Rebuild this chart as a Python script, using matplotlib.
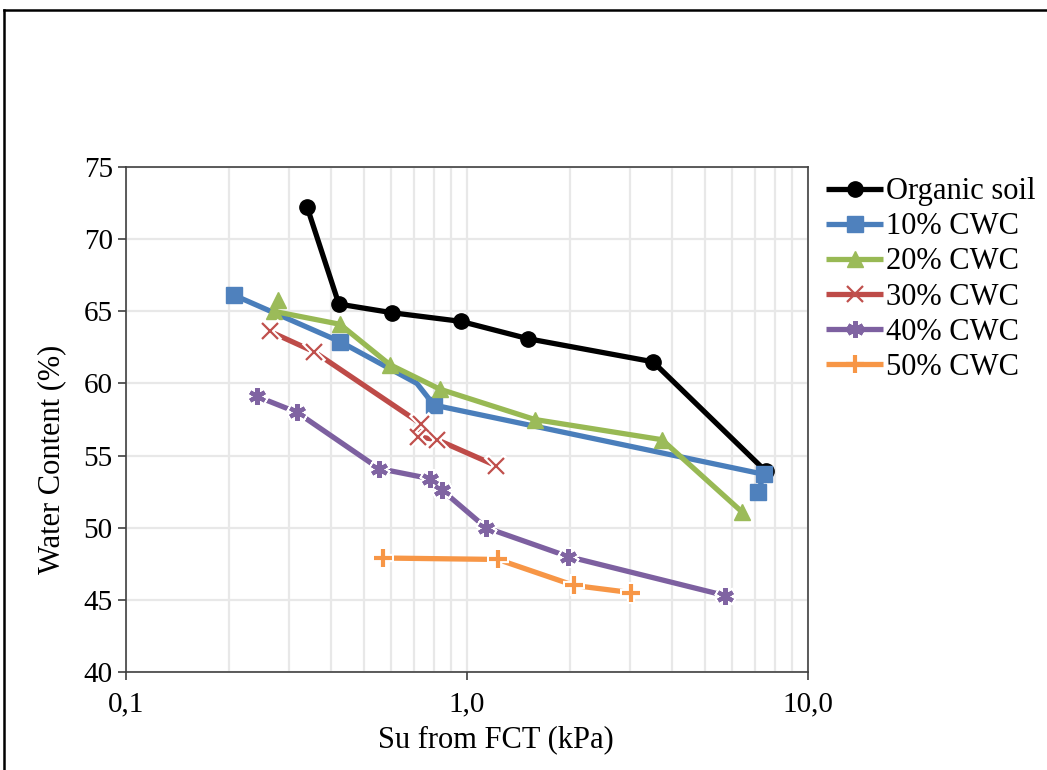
import matplotlib
matplotlib.use('Agg')
import matplotlib.pyplot as plt
from matplotlib.lines import Line2D
from matplotlib.ticker import FixedLocator, LogLocator, NullFormatter

# Data (Su in kPa, water content in %)
organic_su = [0.340, 0.421, 0.603, 0.960, 1.51, 3.51, 7.53]
organic_wc = [72.2, 65.5, 64.9, 64.3, 63.1, 61.5, 53.9]

cwc10_su = [0.208, 0.424, 0.713, 0.800, 7.43, 7.14]
cwc10_wc = [66.1, 62.9, 60.0, 58.5, 53.7, 52.5]

cwc20_su = [0.279, 0.271, 0.424, 0.594, 0.833, 1.58, 3.73, 6.40]
cwc20_wc = [65.8, 65.0, 64.1, 61.3, 59.6, 57.5, 56.1, 51.1]

cwc30_su = [0.264, 0.356, 0.733, 0.720, 0.817, 1.217]
cwc30_wc = [63.6, 62.2, 57.2, 56.3, 56.1, 54.3]

cwc40_su = [0.242, 0.317, 0.552, 0.779, 0.845, 1.137, 1.98, 5.71]
cwc40_wc = [59.1, 58.0, 54.1, 53.4, 52.6, 50.0, 48.0, 45.3]

cwc50_su = [0.567, 1.233, 2.06, 3.03]
cwc50_wc = [47.9, 47.8, 46.0, 45.5]

plt.rcParams['font.family'] = ['Liberation Serif', 'DejaVu Serif']

fig = plt.figure(figsize=(10.47, 7.70), dpi=100)
ax = fig.add_axes([126 / 1047, 1 - 672 / 770, (808 - 126) / 1047, (672 - 167) / 770])

star = (6, 2, 0)
# su, wc, label, line colour, marker colour, marker, size, edge width, which points get markers
series = [
    (organic_su, organic_wc, 'Organic soil', '#000000', '#000000', 'o', 11, 1.0, None),
    (cwc10_su, cwc10_wc, '10% CWC', '#4A7EBB', '#4F81BD', 's', 11, 1.0, [0, 1, 3, 4, 5]),
    (cwc20_su, cwc20_wc, '20% CWC', '#98B954', '#9BBB59', '^', 12, 1.0, None),
    (cwc30_su, cwc30_wc, '30% CWC', '#BE4B48', '#C0504D', 'x', 11, 1.6, None),
    (cwc40_su, cwc40_wc, '40% CWC', '#7D60A0', '#8064A2', star, 12, 3.0, None),
    (cwc50_su, cwc50_wc, '50% CWC', '#F79646', '#F79646', '+', 13, 3.0, None),
]

for su, wc, label, lc, mc, mk, ms, mew, every in series:
    ax.plot(su, wc, color=lc, lw=3.8, label=label, marker=mk, markersize=ms,
            markerfacecolor=mc, markeredgecolor=mc, markeredgewidth=mew,
            markevery=every, solid_capstyle='butt', zorder=3)
    if mk in ('x', star, '+'):
        # white halo that breaks the line around the marker, as in Excel
        ax.plot(su, wc, ls='none', marker=mk, markersize=ms + 3,
                markeredgecolor='white', markeredgewidth=mew + 3, zorder=3.5)
        ax.plot(su, wc, ls='none', marker=mk, markersize=ms,
                markeredgecolor=mc, markeredgewidth=mew, zorder=4)

ax.set_xscale('log')
ax.set_xlim(0.1, 10)
ax.set_ylim(40, 75)
ax.xaxis.set_major_locator(FixedLocator([0.1, 1, 10]))
ax.set_xticklabels(['0,1', '1,0', '10,0'])
ax.xaxis.set_minor_locator(LogLocator(base=10, subs=range(2, 10)))
ax.xaxis.set_minor_formatter(NullFormatter())
ax.set_yticks(range(40, 80, 5))

ax.grid(True, which='major', color='#E8E8E8', lw=1.6, zorder=0)
ax.grid(True, which='minor', axis='x', color='#E8E8E8', lw=1.6, zorder=0)
ax.tick_params(axis='both', which='major', labelsize=21, direction='out',
               length=6, width=1.2, color='#404040')
ax.tick_params(axis='x', which='minor', length=0)
ax.tick_params(axis='x', pad=8)
for sp in ax.spines.values():
    sp.set_color('#404040')
    sp.set_linewidth(1.2)

ax.set_xlabel('Su from FCT (kPa)', fontsize=22)
ax.set_ylabel('Water Content (%)', fontsize=22)
ax.xaxis.set_label_coords(0.543, -0.105)
ax.yaxis.set_label_coords(-0.088, 0.422)

ax.legend(loc='upper left', bbox_to_anchor=(1.0, 1.016), frameon=False,
          fontsize=22, handlelength=1.85, handletextpad=0.1,
          labelspacing=0.2, borderaxespad=0.3, borderpad=0.3)

# outer chart frame
fig.add_artist(Line2D([4 / 1047, 1], [1 - 10 / 770, 1 - 10 / 770], color='black', lw=1.8))
fig.add_artist(Line2D([4 / 1047, 4 / 1047], [0, 1 - 10 / 770], color='black', lw=1.8))

fig.savefig('out.png', dpi=100)
